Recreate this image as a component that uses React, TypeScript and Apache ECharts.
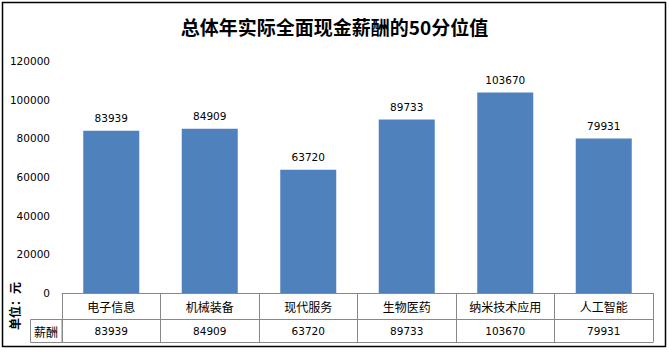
import React, { useEffect, useRef } from "react";
import * as echarts from "echarts";

const categories = ["电子信息", "机械装备", "现代服务", "生物医药", "纳米技术应用", "人工智能"];
const salaries = [83939, 84909, 63720, 89733, 103670, 79931];
const titleText = "总体年实际全面现金薪酬的50分位值";
const unitText = "单位：元";
const rowLabel = "薪酬";

const CJK = "'Noto Sans CJK SC', sans-serif";
const NUM = "'DejaVu Sans', sans-serif";
const GRID = "#888888";

export default function App() {
  const ref = useRef<HTMLDivElement>(null);
  useEffect(() => {
    if (!ref.current) return;
    const chart = echarts.init(ref.current, undefined, { renderer: "svg" });
    chart.setOption({
      animation: false,
      backgroundColor: "#ffffff",
      title: {
        text: titleText,
        left: "center",
        top: 12,
        textStyle: { fontSize: 19, fontWeight: "bold", fontFamily: CJK, color: "#000" },
      },
      grid: { left: 62, right: 16, top: 61, bottom: 59, containLabel: false },
      xAxis: [
        {
          type: "category",
          data: categories,
          axisLine: { show: true, lineStyle: { color: GRID, width: 1 } },
          axisTick: { show: true, interval: 0, length: 26, lineStyle: { color: GRID } },
          axisLabel: { interval: 0, fontSize: 12, fontFamily: CJK, color: "#000", margin: 7 },
        },
        {
          type: "category",
          position: "bottom",
          offset: 26,
          data: salaries.map((v) => String(v)),
          axisLine: { show: true, lineStyle: { color: GRID, width: 1 } },
          axisTick: { show: true, interval: 0, length: 23, lineStyle: { color: GRID } },
          axisLabel: { interval: 0, fontSize: 10.5, fontFamily: NUM, color: "#000", margin: 6 },
        },
        {
          type: "category",
          position: "bottom",
          offset: 49,
          data: categories,
          axisLine: { show: true, lineStyle: { color: GRID, width: 1 } },
          axisTick: { show: false },
          axisLabel: { show: false },
        },
      ],
      yAxis: {
        type: "value",
        min: 0,
        max: 120000,
        interval: 20000,
        axisLine: { show: false },
        axisTick: { show: false },
        splitLine: { show: false },
        axisLabel: {
          fontSize: 10.5,
          fontFamily: NUM,
          color: "#000",
          margin: 12,
          formatter: (v: number) => String(v),
        },
      },
      series: [
        {
          type: "bar",
          data: salaries,
          xAxisIndex: 0,
          barWidth: 56,
          itemStyle: { color: "#4F81BD" },
          label: {
            show: true,
            position: "top",
            distance: 7,
            fontSize: 10.5,
            fontFamily: NUM,
            color: "#000",
          },
        },
      ],
      graphic: [
        {
          type: "rect",
          shape: { x: 2.5, y: 2.5, width: 663, height: 344 },
          style: { fill: "none", stroke: "#000", lineWidth: 1.5 },
          silent: true,
        },
        {
          type: "rect",
          shape: { x: 30.5, y: 319.5, width: 31.5, height: 23 },
          style: { fill: "none", stroke: GRID, lineWidth: 1 },
          silent: true,
        },
        {
          type: "text",
          x: 46,
          y: 331,
          style: {
            text: rowLabel,
            fontSize: 12,
            fontFamily: CJK,
            fill: "#000",
            align: "center",
            verticalAlign: "middle",
          },
        },
        {
          type: "text",
          x: 14,
          y: 306,
          rotation: Math.PI / 2,
          style: {
            text: unitText,
            fontSize: 12,
            fontWeight: "bold",
            fontFamily: CJK,
            fill: "#000",
            align: "center",
            verticalAlign: "middle",
          },
        },
      ],
    });
    return () => chart.dispose();
  }, []);
  return (
    <div
      ref={ref}
      style={{ position: "fixed", left: 0, top: 0, width: 669, height: 352 }}
    />
  );
}
